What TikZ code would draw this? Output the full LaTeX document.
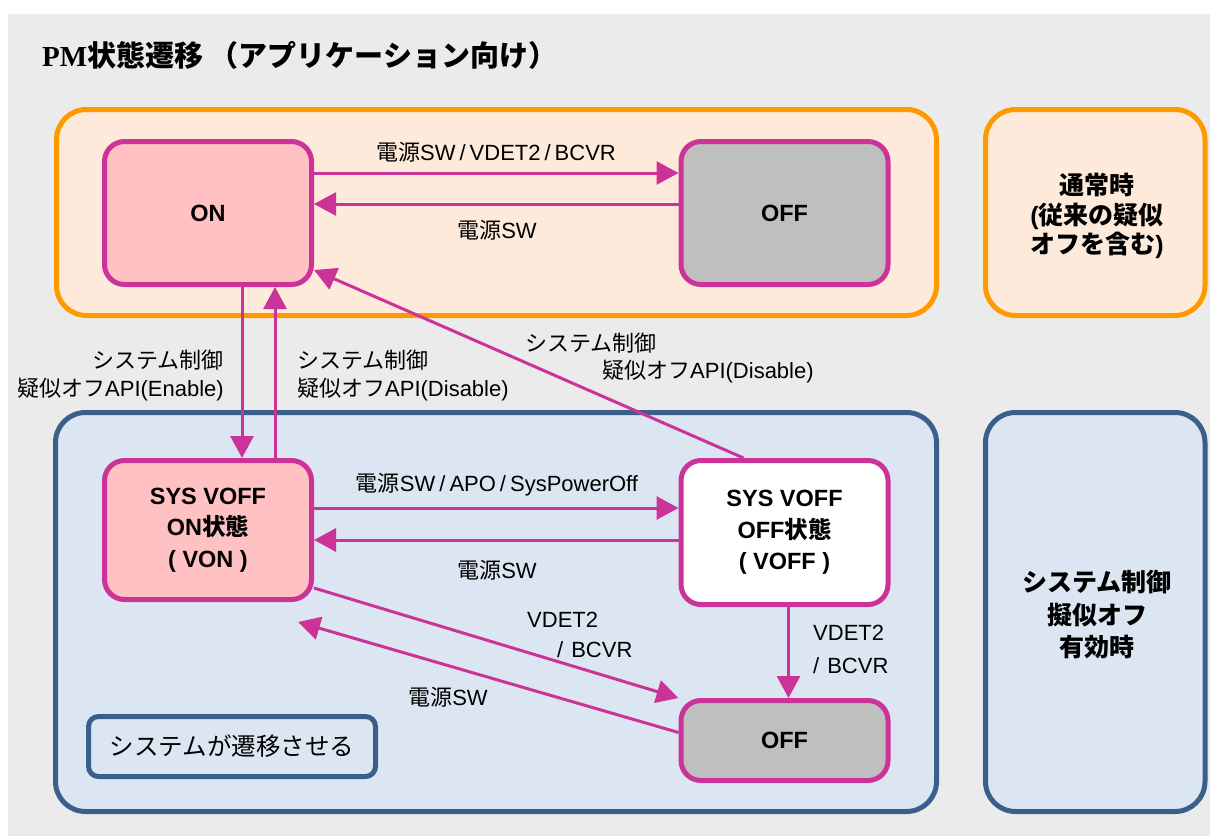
\documentclass[tikz,border=0pt]{standalone}
\usepackage{fontspec}
\setmainfont{Liberation Sans}
\newfontfamily\jpfont{Noto Sans CJK JP}
\newfontfamily\pmserif{Liberation Serif}
\newcommand\jp[1]{{\jpfont #1}}
\newcommand\slsep{\hspace{4pt}/\hspace{4pt}}
\usetikzlibrary{arrows.meta, calc}

\definecolor{bgGray}{HTML}{EBEBEB}
\definecolor{orgLine}{HTML}{FF9900}
\definecolor{orgFill}{HTML}{FDEADA}
\definecolor{bluLine}{HTML}{3A5F8B}
\definecolor{bluFill}{HTML}{DCE6F2}
\definecolor{pmMag}{HTML}{CC3399}
\definecolor{onPink}{HTML}{FFC1C1}
\definecolor{offGray}{HTML}{BFBFBF}

\tikzset{
  state/.style={draw=pmMag, line width=5pt, rounded corners=20pt, minimum width=207pt,
    inner sep=0pt, align=center, font=\fontsize{23.5}{31.5}\selectfont\bfseries},
  trans/.style={draw=pmMag, line width=3pt, -{Triangle[length=22pt, width=23pt]}},
  lbl/.style={inner sep=0pt, font=\fontsize{22}{28}\selectfont},
  group/.style={line width=5pt, rounded corners=30pt},
}

\begin{document}
\begin{tikzpicture}[x=1pt, y=-1pt]
	\fill[white] (0,0) rectangle (1210,836);
	\fill[bgGray] (8,14) rectangle (1210,836);
	\useasboundingbox (0,0) rectangle (1210,836);

	\node[anchor=west, inner sep=0pt, font=\fontsize{29}{32}\selectfont\bfseries] (title) at (42,55)
		{{\pmserif PM}\jp{状態遷移 （アプリケーション向け）}};

	% groups
	\draw[group, draw=orgLine, fill=orgFill] (56.5,109.5) rectangle (936.5,315.5);
	\draw[group, draw=orgLine, fill=orgFill] (985.5,109.5) rectangle (1205,315.5);
	\draw[group, draw=bluLine, fill=bluFill] (55.5,412.5) rectangle (936.5,811.5);
	\draw[group, draw=bluLine, fill=bluFill] (985.5,412.5) rectangle (1205,811.5);

	\node[align=center, font=\fontsize{25}{29.5}\selectfont\bfseries] (normal) at (1097,216)
		{\jp{通常時}\\(\jp{従来の疑似}\\\jp{オフを含む})};
	\node[align=center, font=\fontsize{25}{32.5}\selectfont\bfseries] (pseudo) at (1097,615)
		{\jp{システム制御}\\\jp{擬似オフ}\\\jp{有効時}};

	\node[draw=bluLine, line width=5pt, rounded corners=10pt, minimum width=287pt, minimum height=60pt,
		font=\fontsize{24.5}{28}\selectfont] (legend) at (232,746.5) {\jp{システムが遷移させる}};

	% states
	\node[state, fill=onPink, minimum height=143pt] (on) at (208,213) {ON};
	\node[state, fill=offGray, minimum height=143pt] (offtop) at (784.5,213) {OFF};
	\node[state, fill=onPink, minimum height=139pt] (von) at (208,530) {SYS VOFF\\ON\jp{状態}\\( VON )};
	\node[state, fill=white, minimum height=144pt] (voff) at (784.5,532.5) {SYS VOFF\\OFF\jp{状態}\\( VOFF )};
	\node[state, fill=offGray, minimum height=80pt] (offbot) at (784.5,740.5) {OFF};
	\coordinate (vonret) at (298,622);

	% transitions
	\draw[trans] ([yshift=40pt]on.east) -- ([yshift=40pt]on.east -| offtop.west);
	\draw[trans] ([yshift=9pt]offtop.west) -- ([yshift=9pt]offtop.west -| on.east);
	\draw[trans] ([xshift=34pt]on.south) -- ([xshift=34pt]von.north);
	\draw[trans] ([xshift=67pt]von.north) -- ([xshift=67pt]on.south);
	\draw[trans] ([xshift=-41pt]voff.north) -- ([yshift=-57pt]on.east);
	\draw[trans] ([yshift=22pt]von.east) -- ([yshift=22pt]von.east -| voff.west);
	\draw[trans] ([yshift=-10pt]von.east -| voff.west) -- ([yshift=-10pt]von.east);
	\draw[trans] ([yshift=-58pt]von.east) -- (offbot.north west);
	\draw[trans] ([yshift=8pt]offbot.west) -- (vonret);
	\draw[trans] ([xshift=4pt]voff.south) -- ([xshift=4pt]offbot.north);

	% labels
	\node[lbl] (l1) at (496,152) {\jp{電源}SW\slsep VDET2\slsep BCVR};
	\node[lbl] (l2) at (497,230) {\jp{電源}SW};
	\node[lbl, anchor=east, align=right] (l3) at (224,376) {\jp{システム制御}\\\jp{疑似オフ}API(Enable)};
	\node[lbl, anchor=west, align=left] (l4) at (297,376) {\jp{システム制御}\\\jp{疑似オフ}API(Disable)};
	\node[lbl, anchor=west] (l5) at (525,343) {\jp{システム制御}};
	\node[lbl, anchor=west] (l6) at (602,372) {\jp{疑似オフ}API(Disable)};
	\node[lbl] (l7) at (497,485) {\jp{電源}SW\slsep APO\slsep SysPowerOff};
	\node[lbl] (l8) at (497,570) {\jp{電源}SW};
	\node[lbl, anchor=west] (l9) at (527,620) {VDET2};
	\node[lbl, anchor=west] (l10) at (557,650) {/\hspace{8pt}BCVR};
	\node[lbl] (l11) at (448,697) {\jp{電源}SW};
	\node[lbl, anchor=west] (l12) at (813,633) {VDET2};
	\node[lbl, anchor=west] (l13) at (813,666) {/\hspace{8pt}BCVR};

\end{tikzpicture}
\end{document}
